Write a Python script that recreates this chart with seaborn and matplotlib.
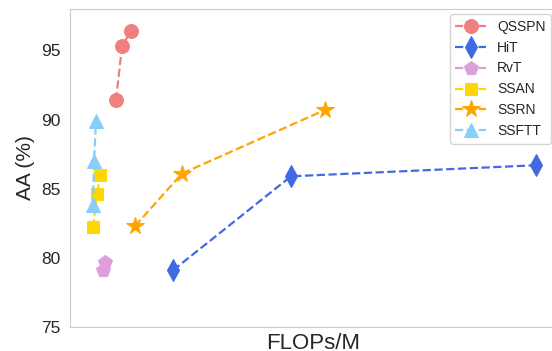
import matplotlib
matplotlib.use('Agg')
import matplotlib.pyplot as plt
import seaborn as sns
import pandas as pd

# FLOPs/M (axis has no ticks, values read off relative positions) and AA (%)
qsspn_flops = [46, 52, 61]
qsspn_aa = [91.4, 95.3, 96.4]
hit_flops = [103, 221, 466]
hit_aa = [79.1, 85.9, 86.7]
rvt_flops = [33, 35]
rvt_aa = [79.1, 79.7]
ssan_flops = [23, 27, 30]
ssan_aa = [82.2, 84.6, 86.0]
ssrn_flops = [65, 112, 255]
ssrn_aa = [82.3, 86.1, 90.7]
ssftt_flops = [23, 24, 26]
ssftt_aa = [83.8, 87.0, 89.9]

models = ['QSSPN', 'HiT', 'RvT', 'SSAN', 'SSRN', 'SSFTT']
flops = [qsspn_flops, hit_flops, rvt_flops, ssan_flops, ssrn_flops, ssftt_flops]
aa = [qsspn_aa, hit_aa, rvt_aa, ssan_aa, ssrn_aa, ssftt_aa]

colors = ['lightcoral', 'royalblue', 'plum', 'gold', 'orange', 'lightskyblue']
markers = ['o', 'd', 'p', 's', '*', '^']
sizes = [10, 11, 10, 9, 13, 10]

sns.set_style('whitegrid')
plt.rcParams['font.family'] = ['Liberation Sans', 'DejaVu Sans']

fig = plt.figure(figsize=(5.52, 3.51), dpi=100)
ax = fig.add_axes([70 / 552, 1 - 327 / 351, 486 / 552, 318 / 351])

for name, x, y, c, m, s in zip(models, flops, aa, colors, markers, sizes):
    df = pd.DataFrame({'FLOPs': x, 'AA': y})
    sns.lineplot(data=df, x='FLOPs', y='AA', ax=ax, color=c, marker=m,
                 markersize=s, linestyle='--', linewidth=1.6, label=name,
                 markeredgecolor=c, sort=False)

ax.grid(False)
ax.set_xlim(0, 486)
ax.set_ylim(75, 98)
ax.set_yticks([75, 80, 85, 90, 95])
ax.set_xticks([])
ax.tick_params(axis='y', labelsize=12.5, length=0, pad=7)
ax.set_xlabel('FLOPs/M', fontsize=16)
ax.set_ylabel('AA (%)', fontsize=15, labelpad=4)
for sp in ax.spines.values():
    sp.set_color('#cccccc')

ax.legend(loc='upper right', bbox_to_anchor=(551 / 552, 1 - 14 / 351),
          bbox_transform=fig.transFigure, fontsize=10, frameon=True,
          handlelength=2.2, borderaxespad=0)

fig.savefig('out.png', dpi=100)
